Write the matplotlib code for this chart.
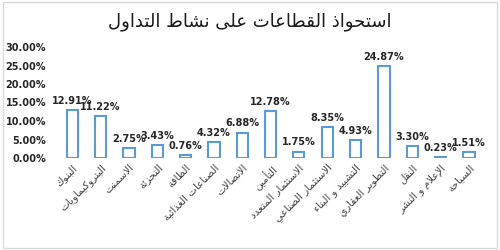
import matplotlib
matplotlib.use("Agg")
import matplotlib.pyplot as plt
from matplotlib.patches import Rectangle
import matplotlib.transforms as mtransforms

# ---------------- data ----------------
title = "استحواذ القطاعات على نشاط التداول"
categories = ["البنوك", "البتروكيماويات", "الاسمنت", "التجزئة", "الطاقة",
              "الصناعات الغذائية", "الاتصالات", "التأمين", "الاستثمار المتعدد",
              "الاستثمار الصناعي", "التشييد و البناء", "التطوير العقاري",
              "النقل", "الإعلام و النشر", "السياحة"]
values = [12.91, 11.22, 2.75, 3.43, 0.76, 4.32, 6.88, 12.78, 1.75,
          8.35, 4.93, 24.87, 3.30, 0.23, 1.51]
yticks = [0, 5, 10, 15, 20, 25, 30]

# ------------- simple Arabic shaping -------------
DUAL = {'ئ': 0xFE89, 'ب': 0xFE8F, 'ت': 0xFE95, 'ث': 0xFE99, 'ج': 0xFE9D,
        'ح': 0xFEA1, 'خ': 0xFEA5, 'س': 0xFEB1, 'ش': 0xFEB5, 'ص': 0xFEB9,
        'ض': 0xFEBD, 'ط': 0xFEC1, 'ظ': 0xFEC5, 'ع': 0xFEC9, 'غ': 0xFECD,
        'ف': 0xFED1, 'ق': 0xFED5, 'ك': 0xFED9, 'ل': 0xFEDD, 'م': 0xFEE1,
        'ن': 0xFEE5, 'ه': 0xFEE9, 'ي': 0xFEF1}
RIGHT = {'آ': 0xFE81, 'أ': 0xFE83, 'ؤ': 0xFE85, 'إ': 0xFE87, 'ا': 0xFE8D,
         'ة': 0xFE93, 'د': 0xFEA9, 'ذ': 0xFEAB, 'ر': 0xFEAD, 'ز': 0xFEAF,
         'و': 0xFEED, 'ى': 0xFEEF,
         '\uE001': 0xFEFB, '\uE002': 0xFEF7, '\uE003': 0xFEF9, '\uE004': 0xFEF5}
NONE = {'ء': 0xFE80}


def shape(text):
    t = (text.replace('لا', '\uE001').replace('لأ', '\uE002')
         .replace('لإ', '\uE003').replace('لآ', '\uE004'))
    out = []
    for i, c in enumerate(t):
        prev = t[i - 1] if i > 0 else ''
        nxt = t[i + 1] if i + 1 < len(t) else ''
        joins_prev = prev in DUAL
        joins_next = c in DUAL and (nxt in DUAL or nxt in RIGHT or nxt in NONE)
        if c in DUAL:
            b = DUAL[c]
            if joins_prev and joins_next:
                out.append(chr(b + 3))
            elif joins_prev:
                out.append(chr(b + 1))
            elif joins_next:
                out.append(chr(b + 2))
            else:
                out.append(chr(b))
        elif c in RIGHT:
            b = RIGHT[c]
            out.append(chr(b + 1) if joins_prev else chr(b))
        elif c in NONE:
            out.append(chr(NONE[c]))
        else:
            out.append(c)
    return ''.join(reversed(out))


# ---------------- figure ----------------
plt.rcParams['font.family'] = ['DejaVu Sans']
fig = plt.figure(figsize=(5, 2.5), dpi=100)
fig.patches.append(Rectangle((0.006, 0.008), 0.988, 0.984, transform=fig.transFigure,
                             fill=False, edgecolor='#d9d9d9', linewidth=1))
ax = fig.add_axes([0.116, 0.368, 0.85, 0.444])

x = list(range(len(values)))
bars = ax.bar(x, values, width=0.4, facecolor='white', edgecolor='#5B9BD5', linewidth=1.5)
for xi, v in zip(x, values):
    ax.annotate(f"{v:.2f}%", (xi, v), xytext=(0, 3), textcoords='offset points',
                ha='center', va='bottom', fontsize=7, fontweight='bold', color='#262626')

ax.set_xlim(-0.5, len(values) - 0.5)
ax.set_ylim(0, 30)
ax.set_yticks(yticks)
ax.set_yticklabels([f"{t:.2f}%" for t in yticks], fontsize=7, fontweight='bold', color='#262626')
ax.set_xticks(x)
ax.set_xticklabels([shape(c) for c in categories], rotation=45, ha='right',
                   rotation_mode='anchor', fontsize=7.5, color='#404040')
offset = mtransforms.ScaledTranslation(5 / 100, -4 / 100, fig.dpi_scale_trans)
for lbl in ax.get_xticklabels():
    lbl.set_transform(lbl.get_transform() + offset)
ax.tick_params(axis='x', length=0, pad=3)
ax.tick_params(axis='y', length=0, pad=8.5)
for s in ax.spines.values():
    s.set_visible(False)

fig.text(0.5, 0.915, shape(title), ha='center', va='center', fontsize=13, color='#1a1a1a')

fig.savefig('out.png', dpi=100)
